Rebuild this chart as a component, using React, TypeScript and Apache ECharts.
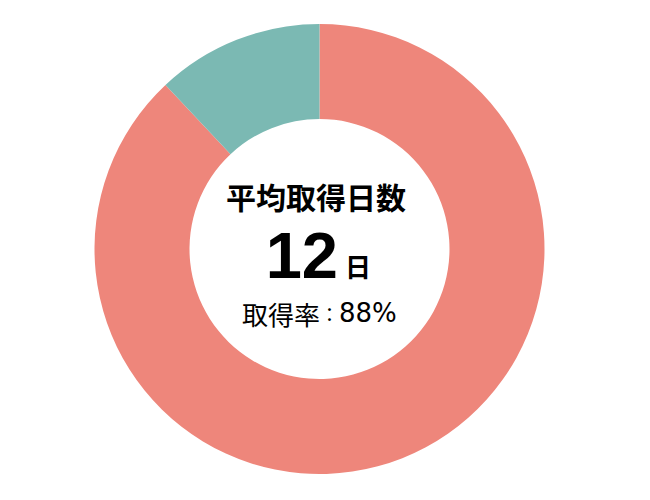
import * as echarts from 'echarts';
import React, { useEffect, useRef } from 'react';

const categories = ['取得', '未取得'];
const values = [88, 12];
const colors = ['#EE867B', '#7BB9B3'];
const avgDays = 12;
const rate = 88;

const App: React.FC = () => {
  const chartRef = useRef<HTMLDivElement>(null);
  useEffect(() => {
    if (!chartRef.current) return;
    const chart = echarts.init(chartRef.current, undefined, { renderer: 'svg' });
    const font = '"Noto Sans CJK JP", "Noto Sans", sans-serif';

    const option: echarts.EChartsOption = {
      animation: false,
      series: [
        {
          type: 'pie',
          center: [311.5, 241],
          radius: [130, 225],
          startAngle: 90,
          clockwise: true,
          label: { show: false },
          labelLine: { show: false },
          silent: true,
          data: categories.map((name, i) => ({
            name,
            value: values[i],
            itemStyle: { color: colors[i] },
          })),
        },
      ],
      graphic: [
        {
          type: 'text',
          x: 308,
          y: 188,
          style: {
            text: '平均取得日数',
            font: `bold 30px ${font}`,
            fill: '#000',
            align: 'center',
            verticalAlign: 'middle',
          },
        },
        {
          type: 'text',
          x: 330,
          y: 247,
          style: {
            text: String(avgDays),
            font: 'bold 65px "Liberation Sans", Arial, sans-serif',
            fill: '#000',
            align: 'right',
            verticalAlign: 'middle',
          },
        },
        {
          type: 'text',
          x: 337,
          y: 257,
          style: {
            text: '日',
            font: `bold 26px ${font}`,
            fill: '#000',
            align: 'left',
            verticalAlign: 'middle',
          },
        },
        {
          type: 'text',
          x: 234,
          y: 305,
          style: {
            text: `{a|取得率}{c|：}{b|${rate}%}`,
            fill: '#000',
            align: 'left',
            verticalAlign: 'middle',
            rich: {
              a: { font: `26px ${font}`, fill: '#000', verticalAlign: 'middle' },
              c: { font: `19px ${font}`, fill: '#000', verticalAlign: 'middle' },
              b: { font: '26px "DejaVu Sans", sans-serif', fill: '#000', verticalAlign: 'middle' },
            },
          },
        },
      ],
    };

    chart.setOption(option);
    return () => {
      chart.dispose();
    };
  }, []);

  return <div ref={chartRef} style={{ width: '634px', height: '484px' }} />;
};

export default App;
